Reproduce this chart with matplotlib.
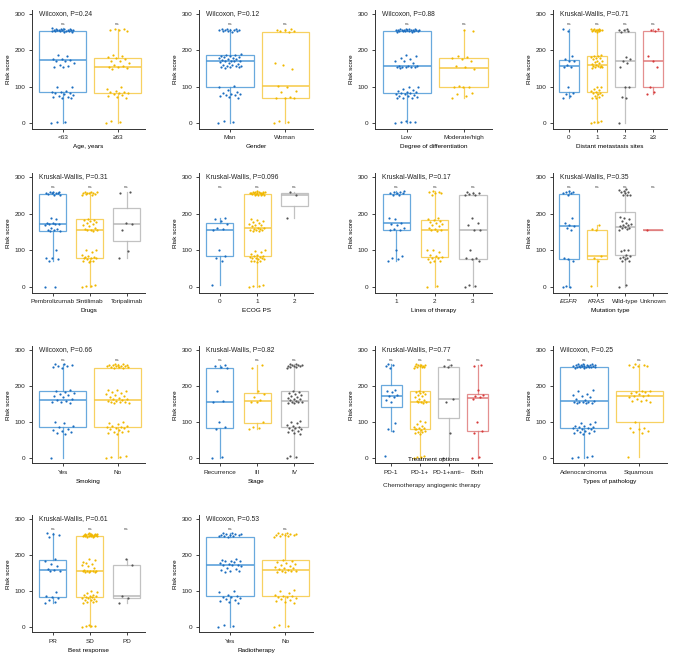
import matplotlib
matplotlib.use('Agg')
from matplotlib import pyplot as plt

plt.rcParams['font.family'] = ['Liberation Sans', 'DejaVu Sans']

# Risk score values, one list per group.
age_lt63 = [0, 2, 3, 68, 70, 72, 73, 75, 78, 80, 82, 83, 85, 86, 88, 98, 100,
            153, 155, 157, 160, 165, 170, 172, 173, 175, 175, 185, 188,
            250, 251, 252, 253, 253, 254, 254, 255, 255, 255, 256, 256, 257, 257, 258, 258, 259, 260, 262]
age_ge63 = [0, 3, 5, 70, 72, 75, 78, 80, 82, 83, 85, 86, 88, 95, 100,
            150, 152, 155, 155, 157, 160, 165, 170, 172, 175, 180, 183, 185, 186,
            252, 255, 256, 258, 260]

gender_man = [0, 3, 5, 70, 72, 75, 78, 78, 80, 80, 82, 85, 90, 98, 102,
              152, 153, 155, 155, 156, 157, 158, 160, 160, 163, 165, 168, 170, 170, 172, 172, 173, 175,
              175, 178, 180, 182, 183, 184, 185, 186, 188, 190,
              250, 252, 253, 254, 255, 255, 256, 256, 257, 258, 258, 260]
gender_woman = [0, 2, 5, 68, 70, 70, 72, 85, 88, 100, 102, 150, 160, 165,
                250, 252, 253, 255, 256, 258]

diff_low = [0, 2, 2, 3, 5, 68, 70, 70, 72, 75, 75, 78, 80, 80, 82, 83, 85, 85, 88, 90, 95, 98, 100,
            152, 153, 154, 155, 155, 155, 156, 156, 158, 165, 170, 172, 175, 178, 185, 188,
            250, 251, 252, 252, 253, 253, 254, 254, 255, 255, 255, 255, 256, 256, 256, 257, 257, 258, 258, 259, 260]
diff_mod = [68, 75, 80, 82, 98, 100, 100, 102, 150, 155, 157, 170, 175, 180, 183, 185, 252, 255]

meta_0 = [70, 75, 80, 82, 100, 155, 155, 160, 170, 172, 175, 185, 252, 258]
meta_1 = [0, 2, 3, 5, 68, 70, 72, 75, 78, 80, 82, 83, 85, 88, 90, 95, 98, 100,
          152, 153, 155, 155, 156, 157, 158, 160, 162, 165, 168, 170, 172, 175, 178, 180, 182, 184, 185, 186,
          250, 252, 253, 254, 255, 255, 256, 256, 257, 258, 258, 260]
meta_2 = [0, 68, 72, 98, 100, 155, 165, 172, 175, 182, 250, 253, 255, 256, 258]
meta_3 = [80, 85, 98, 155, 170, 185, 252, 255, 258]

drug_pem = [0, 1, 70, 75, 78, 80, 100,
            152, 153, 155, 156, 158, 160, 170, 172, 172, 173, 175, 175, 185, 188,
            250, 252, 253, 255, 255, 256, 257, 258, 258, 260]
drug_sin = [0, 2, 3, 5, 68, 70, 72, 75, 78, 80, 82, 83, 85, 88, 95, 100, 102, 72, 80,
            152, 155, 155, 156, 158, 160, 165, 170, 172, 175, 178, 180, 182, 184, 186,
            250, 252, 253, 254, 255, 256, 256, 257, 258, 258, 260]
drug_tor = [80, 98, 155, 172, 175, 255, 258]

ecog_0 = [5, 70, 78, 85, 100, 155, 158, 160, 172, 180, 185, 188]
ecog_1 = [0, 2, 3, 5, 68, 70, 70, 72, 75, 75, 78, 80, 80, 82, 83, 85, 85, 88, 90, 95, 98, 100,
          152, 153, 155, 155, 156, 157, 158, 160, 162, 165, 168, 170, 172, 175, 178, 180, 183, 186,
          250, 251, 252, 252, 253, 254, 254, 255, 255, 255, 256, 256, 257, 257, 258, 258, 259, 260, 260, 262]
ecog_2 = [188, 252, 258]

lines_1 = [70, 75, 80, 85, 100, 155, 155, 158, 160, 170, 172, 175, 185, 188,
           250, 252, 255, 256, 257, 258, 260, 262]
lines_2 = [0, 3, 68, 70, 72, 75, 78, 80, 82, 85, 88, 95, 100, 102,
           152, 155, 155, 157, 160, 165, 170, 172, 175, 178, 180, 183, 185, 188,
           250, 255, 256, 258, 260, 262]
lines_3 = [0, 2, 5, 70, 75, 78, 80, 100, 155, 155, 170, 175, 188, 250, 252, 253, 255, 256, 258]

mut_egfr = [0, 0, 3, 72, 75, 80, 155, 160, 165, 170, 175, 188, 250, 255, 256, 258, 260, 262]
mut_kras = [3, 72, 80, 85, 155, 158, 170]
mut_wild = [0, 5, 70, 72, 75, 78, 80, 82, 85, 88, 98, 100, 100,
            155, 158, 160, 160, 163, 165, 168, 170, 172, 175, 180, 185, 188, 190,
            250, 250, 252, 255, 258, 260, 262, 265, 268]
mut_unknown = [155]

smoke_yes = [0, 68, 70, 72, 75, 78, 80, 85, 88, 98, 100,
             152, 155, 155, 157, 160, 165, 170, 172, 175, 178, 180, 182, 185, 188,
             250, 252, 255, 256, 258, 260, 262]
smoke_no = [0, 2, 3, 5, 68, 70, 72, 72, 75, 78, 80, 82, 83, 85, 86, 88, 90, 95, 98, 100,
            152, 153, 155, 155, 156, 157, 158, 160, 163, 165, 168, 170, 172, 175, 178, 180, 183, 185, 188, 190,
            250, 251, 252, 253, 254, 255, 255, 256, 256, 257, 258, 258, 259, 260, 262]

stage_rec = [0, 3, 80, 85, 100, 155, 158, 185, 250, 253, 255, 258]
stage_iii = [80, 82, 85, 100, 155, 155, 160, 170, 178, 185, 250, 258]
stage_iv = [0, 3, 5, 68, 70, 72, 75, 78, 80, 82, 83, 85, 88, 92, 98, 100, 102,
            152, 153, 155, 155, 156, 157, 160, 163, 165, 168, 170, 172, 175, 178, 180, 183, 186,
            250, 252, 253, 255, 255, 256, 257, 258, 258, 260, 262]

treat_pd1 = [5, 75, 80, 98, 155, 160, 170, 172, 175, 182, 185, 188, 250, 255, 258, 262]
treat_chemo = [0, 2, 3, 5, 68, 70, 72, 72, 75, 78, 80, 82, 83, 85, 88, 95, 100, 102, 80,
               152, 155, 155, 156, 158, 160, 165, 170, 172, 175, 178, 180, 182, 184, 186,
               250, 252, 253, 254, 255, 256, 256, 257, 258, 258, 260]
treat_anti = [0, 70, 155, 165, 252, 255, 258]
treat_both = [0, 3, 70, 75, 100, 165, 170, 172, 175, 188, 255, 258]

path_adeno = [0, 2, 3, 5, 68, 70, 70, 72, 75, 75, 78, 80, 80, 82, 83, 85, 85, 88, 90, 95, 98, 100,
              152, 153, 154, 155, 155, 156, 156, 158, 160, 165, 170, 172, 175, 178, 185, 188,
              250, 251, 252, 252, 253, 253, 254, 254, 255, 255, 255, 256, 256, 256, 257, 257, 258, 258, 259, 260, 260, 262]
path_squam = [3, 70, 72, 75, 80, 82, 82, 100,
              155, 157, 158, 160, 165, 170, 172, 172, 175, 178, 180, 182, 184, 185, 186,
              252, 255, 256, 258, 258, 260]

resp_pr = [68, 70, 75, 80, 82, 85, 98, 155, 155, 158, 160, 170, 175, 183, 188, 250, 255, 258, 260]
resp_sd = [0, 2, 2, 3, 5, 68, 70, 70, 72, 75, 75, 78, 80, 80, 82, 83, 85, 85, 88, 90, 95, 98, 100,
           152, 153, 154, 155, 155, 155, 156, 156, 158, 165, 170, 172, 175, 178, 185, 188, 180,
           250, 251, 252, 252, 253, 253, 254, 254, 255, 255, 255, 256, 256, 256, 257, 257, 258, 258, 259, 260]
resp_pd = [68, 80, 85, 172, 188]

radio_yes = [0, 3, 5, 68, 70, 72, 75, 78, 80, 82, 83, 85, 88, 98, 100,
             152, 155, 156, 157, 160, 165, 170, 172, 172, 173, 175, 178, 180, 182, 183, 184, 185, 188,
             250, 252, 253, 254, 255, 255, 256, 257, 258, 258, 260, 262]
radio_no = [0, 3, 5, 68, 70, 72, 75, 78, 80, 82, 83, 85, 86, 88, 95, 100, 102,
            152, 153, 155, 155, 156, 157, 160, 163, 165, 168, 170, 172, 175, 178, 180, 183, 186,
            250, 252, 253, 255, 255, 256, 257, 258, 258, 260, 262]

# Panels: (row, col, test label, xlabel, tick labels, groups)
panels = [
  (0, 0, 'Wilcoxon, P=0.24', 'Age, years', ['<63', '≥63'], [age_lt63, age_ge63]),
  (0, 1, 'Wilcoxon, P=0.12', 'Gender', ['Man', 'Woman'], [gender_man, gender_woman]),
  (0, 2, 'Wilcoxon, P=0.88', 'Degree of differentiation', ['Low', 'Moderate/high'], [diff_low, diff_mod]),
  (0, 3, 'Kruskal-Wallis, P=0.71', 'Distant metastasis sites', ['0', '1', '2', '≥3'],
   [meta_0, meta_1, meta_2, meta_3]),
  (1, 0, 'Kruskal-Wallis, P=0.31', 'Drugs', ['Pembrolizumab', 'Sintilimab', 'Toripalimab'],
   [drug_pem, drug_sin, drug_tor]),
  (1, 1, 'Kruskal-Wallis, P=0.096', 'ECOG PS', ['0', '1', '2'], [ecog_0, ecog_1, ecog_2]),
  (1, 2, 'Kruskal-Wallis, P=0.17', 'Lines of therapy', ['1', '2', '3'], [lines_1, lines_2, lines_3]),
  (1, 3, 'Kruskal-Wallis, P=0.35', 'Mutation type', ['EGFR', 'KRAS', 'Wild-type', 'Unknown'],
   [mut_egfr, mut_kras, mut_wild, mut_unknown]),
  (2, 0, 'Wilcoxon, P=0.66', 'Smoking', ['Yes', 'No'], [smoke_yes, smoke_no]),
  (2, 1, 'Kruskal-Wallis, P=0.82', 'Stage', ['Recurrence', 'III', 'IV'], [stage_rec, stage_iii, stage_iv]),
  (2, 2, 'Kruskal-Wallis, P=0.77', 'Treatment options',
   ['PD-1', 'PD-1+', 'PD-1+anti–', 'Both'],
   [treat_pd1, treat_chemo, treat_anti, treat_both]),
  (2, 3, 'Wilcoxon, P=0.25', 'Types of pathology', ['Adenocarcinoma', 'Squamous'], [path_adeno, path_squam]),
  (3, 0, 'Kruskal-Wallis, P=0.61', 'Best response', ['PR', 'SD', 'PD'], [resp_pr, resp_sd, resp_pd]),
  (3, 1, 'Wilcoxon, P=0.53', 'Radiotherapy', ['Yes', 'No'], [radio_yes, radio_no]),
]

# Box colour and point colour for each group position.
boxColors = ['#4f9ad8', '#f6c945', '#b8b8b8', '#e07b7b']
dotColors = ['#1c6dbf', '#f0b800', '#555555', '#d63a3a']

# Axes placement in pixels (top, bottom) per row and (left, right) per column.
W, H = 675, 661
rowPx = [(10.4, 128.5), (173.3, 292.5), (346.4, 463.4), (515.4, 632.4)]
colPx = [(32, 145), (199, 313), (375, 492), (553, 667)]

fig = plt.figure(figsize=(W / 100, H / 100), dpi=100)

for row, col, test, xlabel, ticks, groups in panels:
  top, bot = rowPx[row]
  left, right = colPx[col]
  ax = fig.add_axes([left / W, 1 - bot / H, (right - left) / W, (bot - top) / H])
  n = len(groups)
  pos = list(range(n))
  width = 0.85 if n == 2 else 0.72

  for i, vals in enumerate(groups):
    bc = boxColors[i]
    ax.boxplot([vals], positions=[i], widths=width, showfliers=False, showcaps=False,
               patch_artist=True,
               boxprops=dict(facecolor='white', edgecolor=bc, linewidth=0.9, alpha=0.85),
               whiskerprops=dict(color=bc, linewidth=0.9, alpha=0.85),
               medianprops=dict(color=bc, linewidth=1.1),
               zorder=1)
    # Deterministic horizontal jitter for the strip points.
    xs = [i + (((k * 0.618034) % 1.0) - 0.5) * 0.42 for k in range(len(vals))]
    ax.scatter(xs, vals, s=2.5, color=dotColors[i], linewidths=0, zorder=3)
    ax.text(i, 272, 'ns', ha='center', va='center', fontsize=3.2, color='#555555')

  ax.set_xlim(-0.56, n - 1 + 0.5)
  ax.set_ylim(-15, 310)
  ax.set_yticks([0, 100, 200, 300])
  ax.set_xticks(pos)
  ax.set_xticklabels(ticks)
  ax.tick_params(labelsize=4.6, length=2.5, width=0.6, pad=2, colors='#222222')
  for s in ['top', 'right']:
    ax.spines[s].set_visible(False)
  for s in ['left', 'bottom']:
    ax.spines[s].set_linewidth(0.7)
    ax.spines[s].set_color('#333333')
  ax.set_ylabel('Risk score', fontsize=4.6, labelpad=3)
  ax.annotate(test, xy=(0, 300), xycoords=('axes fraction', 'data'), xytext=(5, 0),
              textcoords='offset points', ha='left', va='center', fontsize=4.9, color='#222222')

  if xlabel == 'Mutation type':
    for lab in ax.get_xticklabels()[:2]:
      lab.set_fontstyle('italic')

  if xlabel == 'Treatment options':
    ax.text(0.5, 0.01, xlabel, transform=ax.transAxes, ha='center', va='bottom', fontsize=4.6)
    ax.annotate('Chemotherapy angiogenic therapy', xy=(1.4, 0), xycoords=('data', 'axes fraction'),
                xytext=(0, -14), textcoords='offset points', ha='center', va='top',
                fontsize=4.6, color='#222222')
  else:
    ax.set_xlabel(xlabel, fontsize=4.6, labelpad=3)

fig.savefig('out.png', dpi=100)
